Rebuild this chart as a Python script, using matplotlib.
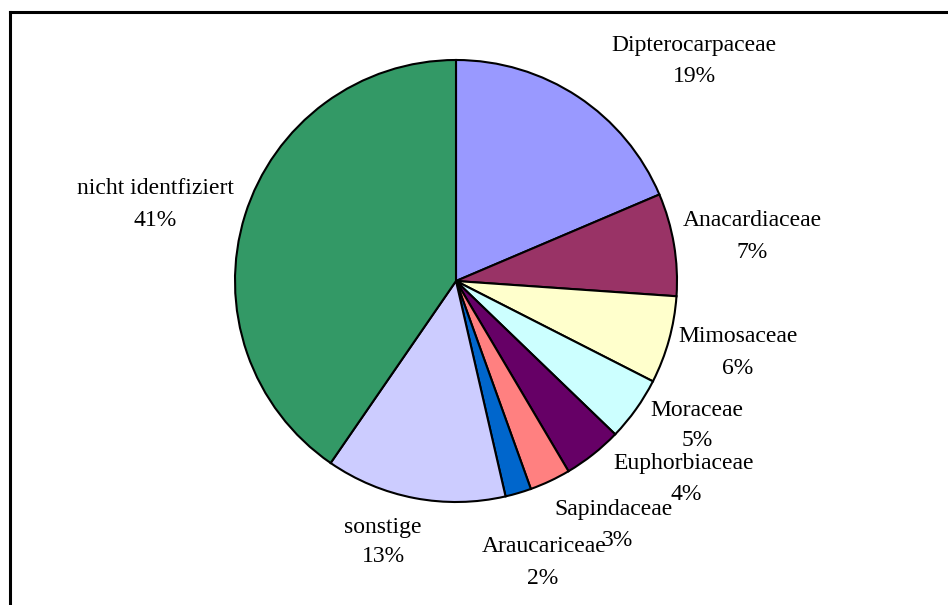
#!/usr/bin/env python3
"""Pie chart: Baumfamilien (Anteile)."""

import matplotlib

matplotlib.use("Agg")

import matplotlib.pyplot as plt
from matplotlib.lines import Line2D

families = [
    "Dipterocarpaceae",
    "Anacardiaceae",
    "Mimosaceae",
    "Moraceae",
    "Euphorbiaceae",
    "Sapindaceae",
    "Araucariceae",
    "sonstige",
    "nicht identfiziert",
]
shares = [18.6, 7.5, 6.4, 4.7, 4.3, 3.0, 1.9, 13.2, 40.4]
percent_labels = ["19%", "7%", "6%", "5%", "4%", "3%", "2%", "13%", "41%"]
colors = [
    "#9999FF",
    "#993366",
    "#FFFFCC",
    "#CCFFFF",
    "#660066",
    "#FF8080",
    "#0066CC",
    "#CCCCFF",
    "#339966",
]

# label anchors in pixel coordinates (x, y from top): name line, percent line
label_pos = [
    ((694, 45), (694, 77)),
    ((752, 221), (752, 253)),
    ((738, 336), (738, 368)),
    ((697, 410), (697, 440)),
    ((684, 463), (686, 494)),
    ((614, 509), (618, 541)),
    ((544, 546), (543, 578)),
    ((383, 527), (383, 557)),
    ((155, 188), (155, 220)),
]

W, H = 948, 605


def main() -> None:
    plt.rcParams["font.family"] = ["Liberation Serif", "DejaVu Serif"]

    fig = plt.figure(figsize=(W / 100, H / 100), dpi=100)
    ax = fig.add_axes([0, 0, 1, 1])

    ax.pie(
        shares,
        colors=colors,
        startangle=90,
        counterclock=False,
        center=(456, H - 281),
        radius=221,
        frame=True,
        wedgeprops=dict(edgecolor="black", linewidth=1.5),
    )
    ax.set_xlim(0, W)
    ax.set_ylim(0, H)
    ax.set_aspect("equal")
    ax.axis("off")

    for name, pct, (p_name, p_pct) in zip(families, percent_labels, label_pos):
        ax.text(p_name[0], H - p_name[1], name, ha="center", va="center", fontsize=17)
        ax.text(p_pct[0], H - p_pct[1], pct, ha="center", va="center", fontsize=17)

    # outer frame (only left and top edges are visible in the crop)
    fig.add_artist(Line2D([9.5 / W, 9.5 / W], [0, 1 - 11.5 / H], color="black", lw=2.2,
                          transform=fig.transFigure, solid_capstyle="projecting"))
    fig.add_artist(Line2D([9.5 / W, 1], [1 - 11.5 / H, 1 - 11.5 / H], color="black", lw=2.2,
                          transform=fig.transFigure, solid_capstyle="projecting"))

    fig.savefig("out.png", dpi=100)
    plt.close(fig)


if __name__ == "__main__":
    main()
